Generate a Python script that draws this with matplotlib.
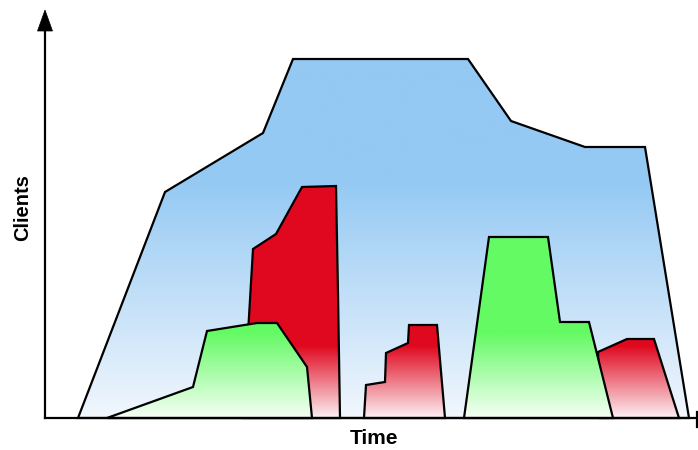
import numpy as np
import matplotlib
matplotlib.use("Agg")
import matplotlib.pyplot as plt
from matplotlib.patches import Polygon

# shape outlines (time, clients), arbitrary units
blue_time = [33, 120, 218, 248, 423, 466, 540, 600, 644]
blue_clients = [0, 226, 285, 359, 359, 297, 271, 271, 0]

red1_time = [198, 208, 231, 257, 291, 293, 295]
red1_clients = [0, 169, 184, 231, 232, 125, 0]

green1_time = [62, 148, 162, 212, 232, 262, 267]
green1_clients = [0, 31, 87, 95, 95, 51, 0]

red2_time = [319, 321, 340, 341, 363, 364, 392, 400]
red2_clients = [0, 33, 36, 65, 75, 93, 93, 0]

red3_time = [555, 553, 582, 609, 634]
red3_clients = [0, 66, 79, 79, 0]

green2_time = [419, 444, 503, 515, 544, 568]
green2_clients = [0, 181, 181, 96, 96, 0]

X_MAX, Y_MAX = 650, 408

# gradient: (top colour, bottom colour, height where fading starts)
BLUE = ((148, 201, 243), (242, 247, 253), 238)
RED = ((224, 8, 30), (252, 240, 243), 72)
GREEN = ((100, 250, 100), (246, 255, 246), 85)


def gradient_image(style):
    top, bottom, start = style
    h = np.linspace(0, Y_MAX, 400)
    t = np.clip(h / start, 0, 1)[:, None]
    top = np.array(top) / 255
    bottom = np.array(bottom) / 255
    rows = bottom * (1 - t) + top * t
    return np.repeat(rows[:, None, :], 2, axis=1)


fig = plt.figure(figsize=(6.98, 4.5), dpi=100)
ax = fig.add_axes([45 / 698, 32 / 450, 650 / 698, 408 / 450])
ax.set_xlim(0, X_MAX)
ax.set_ylim(0, Y_MAX)
ax.axis("off")

shapes = [
    (blue_time, blue_clients, BLUE),
    (red1_time, red1_clients, RED),
    (green1_time, green1_clients, GREEN),
    (red2_time, red2_clients, RED),
    (red3_time, red3_clients, RED),
    (green2_time, green2_clients, GREEN),
]

for i, (xs, ys, style) in enumerate(shapes):
    poly = Polygon(np.column_stack([xs, ys]), closed=True, facecolor="none",
                   edgecolor="black", linewidth=1.6, joinstyle="miter",
                   zorder=2 * i + 3, clip_on=False)
    ax.add_patch(poly)
    im = ax.imshow(gradient_image(style), extent=[0, X_MAX, 0, Y_MAX],
                   origin="lower", aspect="auto", interpolation="bilinear",
                   zorder=2 * i + 2)
    im.set_clip_path(poly)

# axes with arrow head and end tick
ax.plot([0, 0], [0, Y_MAX - 20], color="black", lw=1.6, clip_on=False, zorder=20)
ax.add_patch(Polygon([[-7.5, Y_MAX - 21], [7.5, Y_MAX - 21], [0, Y_MAX]],
                     closed=True, facecolor="black", edgecolor="black",
                     lw=0.5, clip_on=False, zorder=20))
ax.plot([0, 652], [0, 0], color="black", lw=1.6, clip_on=False, zorder=20)
ax.plot([652, 652], [-9, 6], color="black", lw=1.6, clip_on=False, zorder=20)

ax.text(329, -20, "Time", ha="center", va="center", fontsize=15,
        fontweight="bold", family=["Liberation Sans", "DejaVu Sans"])
ax.text(-22, 210, "Clients", ha="center", va="center", fontsize=14.5,
        fontweight="bold", rotation=90,
        family=["Liberation Sans", "DejaVu Sans"])

fig.savefig("out.png", dpi=100, facecolor="white")
